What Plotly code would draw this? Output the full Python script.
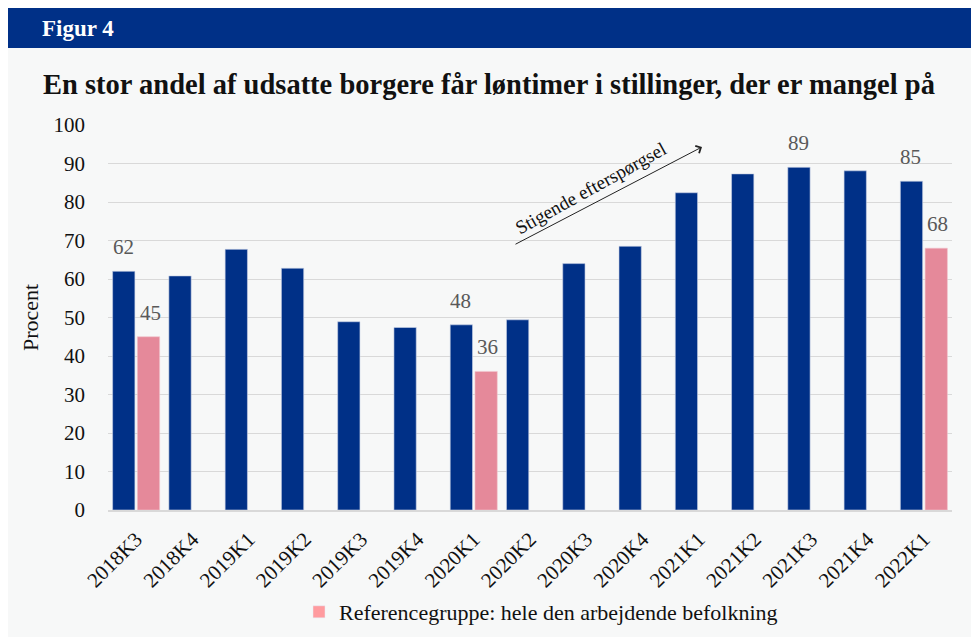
import plotly.graph_objects as go

categories = ["2018K3", "2018K4", "2019K1", "2019K2", "2019K3", "2019K4", "2020K1",
              "2020K2", "2020K3", "2020K4", "2021K1", "2021K2", "2021K3", "2021K4", "2022K1"]
udsatte = [62, 60.8, 67.7, 62.8, 48.9, 47.4, 48.1, 49.4, 64.0, 68.5, 82.4, 87.3, 89.0, 88.1, 85.4]
udsatte_labels = ["62", "", "", "", "", "", "48", "", "", "", "", "", "89", "", "85"]
reference = [45, None, None, None, None, None, 36, None, None, None, None, None, None, None, 68]
reference_labels = ["45", "", "", "", "", "", "36", "", "", "", "", "", "", "", "68"]
y_ticks = [0, 10, 20, 30, 40, 50, 60, 70, 80, 90, 100]

# page offset (browser body margin) -> figure pixels = screen pixels - OFF
OFF = 8
W, H = 971, 629
L, T = 100, 117
R, B = 27, 127
pw, ph = W - L - R, H - T - B

def px(sx):
    return (sx - OFF - L) / pw

def py(sy):
    return (H - B - (sy - OFF)) / ph

SERIF = "Liberation Serif"
BLUE = "#003087"
PINK = "#E5899A"
LABEL = "#595959"

fig = go.Figure()
fig.add_trace(go.Bar(
    x=categories, y=udsatte, name="Udsatte borgere", marker_color=BLUE,
    marker_line=dict(color="#c9d2e6", width=0.6),
    offsetgroup="main", showlegend=False, hoverinfo="x+y"))
fig.add_trace(go.Bar(
    x=categories, y=reference, name="Referencegruppe: hele den arbejdende befolkning",
    marker_color=PINK, marker_line=dict(color="#f2c4cc", width=0.6),
    offsetgroup="ref", showlegend=False, hoverinfo="x+y"))
# legend entry
fig.add_trace(go.Bar(
    x=[categories[0]], y=[None], name="Referencegruppe: hele den arbejdende befolkning",
    marker_color="#FF9B9F", offsetgroup="ref", showlegend=True, hoverinfo="skip"))

shapes = [
    dict(type="rect", xref="paper", yref="paper", x0=px(0), x1=px(W + 20), y0=py(8), y1=py(48),
         fillcolor="#003087", line_width=0, layer="below"),
]

annotations = [
    dict(text="<b>Figur 4</b>", xref="paper", yref="paper", x=px(40), y=py(29),
         xanchor="left", yanchor="middle", showarrow=False,
         font=dict(family=SERIF, size=23, color="white")),
    dict(text="<b>En stor andel af udsatte borgere får løntimer i stillinger, der er mangel på</b>",
         xref="paper", yref="paper", x=px(41), y=py(85), xanchor="left", yanchor="middle",
         showarrow=False, font=dict(family=SERIF, size=28.5, color="#111111")),
    dict(text="", xref="paper", yref="paper", x=px(702), y=py(147), ax=-188, ay=98,
         showarrow=True, arrowhead=4, arrowsize=1.6, arrowwidth=1, arrowcolor="#222222"),
    dict(text="Stigende efterspørgsel", xref="paper", yref="paper", x=px(590), y=py(188),
         xanchor="center", yanchor="middle", showarrow=False, textangle=-29,
         font=dict(family=SERIF, size=19, color="#111111")),
]

# value labels above selected bars
for cat, val, lab in zip(categories, udsatte, udsatte_labels):
    if lab:
        annotations.append(dict(text=lab, x=cat, y=val, xref="x", yref="y", showarrow=False,
                                xanchor="center", yanchor="bottom", xshift=-13, yshift=10,
                                font=dict(family=SERIF, size=21, color=LABEL)))
for cat, val, lab in zip(categories, reference, reference_labels):
    if lab and val is not None:
        annotations.append(dict(text=lab, x=cat, y=val, xref="x", yref="y", showarrow=False,
                                xanchor="center", yanchor="bottom", xshift=14, yshift=10,
                                font=dict(family=SERIF, size=21, color=LABEL)))

fig.update_layout(
    width=W, height=H, margin=dict(l=L, r=R, t=T, b=B, autoexpand=False),
    paper_bgcolor="#F7F8F8", plot_bgcolor="rgba(0,0,0,0)",
    barmode="group", bargap=0.12, bargroupgap=0.1,
    shapes=shapes, annotations=annotations,
    legend=dict(orientation="h", x=px(541), xanchor="center", y=py(612), yanchor="middle",
                font=dict(family=SERIF, size=22, color="#111111"), bgcolor="rgba(0,0,0,0)"),
    font=dict(family=SERIF, color="#111111"),
)
fig.update_xaxes(type="category", tickangle=-45, tickfont=dict(family=SERIF, size=21),
                 showline=True, linecolor="#d9d9d9", linewidth=1.5, ticks="", showgrid=False,
                 ticklabelstandoff=7, automargin=False)
fig.update_yaxes(range=[0, 100], tickvals=y_ticks, tickfont=dict(family=SERIF, size=21),
                 showgrid=True, gridcolor="#d9d9d9", gridwidth=1.2, zeroline=False,
                 ticklabelstandoff=22, automargin=False,
                 title=dict(text="Procent", font=dict(family=SERIF, size=22), standoff=8))

fig.write_html("out.html")
